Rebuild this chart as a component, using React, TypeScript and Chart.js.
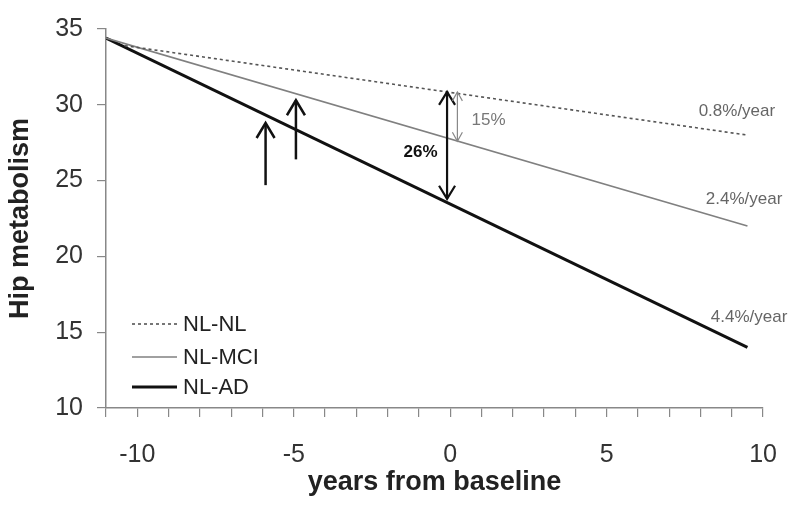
import React, { useEffect, useRef } from "react";
import { Chart, registerables } from "chart.js";

Chart.register(...registerables);

// ---- data ----
const seriesNames = ["NL-NL", "NL-MCI", "NL-AD"];
const yearsNL = [-10.4, 9.5];
const valuesNL = [33.9, 28.0];
const yearsMCI = [-11, 9.5];
const valuesMCI = [34.4, 22.0];
const yearsAD = [-11, 9.5];
const valuesAD = [34.4, 14.0];

const xTickLabels = [-10, -5, 0, 5, 10];
const yTickValues = [10, 15, 20, 25, 30, 35];

// annotation texts (anchored at data coords)
const rateTexts = ["0.8%/year", "2.4%/year", "4.4%/year"];
const rateX = [7.94, 8.17, 8.33];
const rateY = [29.55, 23.77, 15.97];

// single conversion arrows: x, from, to
const arrowX = [-5.9, -4.93];
const arrowFrom = [24.7, 26.4];
const arrowTo = [28.8, 30.3];

// difference arrows at baseline
const diffLabels = ["26%", "15%"];
const diffX = [-0.1, 0.23];
const diffTop = [30.85, 30.85];
const diffBottom = [23.8, 27.6];
const diffTextX = [-1.49, 0.68];
const diffTextY = [26.88, 28.96];

const FONT = "'Liberation Sans', Arial, sans-serif";

const toPts = (xs: number[], ys: number[]) => xs.map((x, i) => ({ x, y: ys[i] }));

const lineStyles = [
  { color: "#555555", width: 1.6, dash: [3, 3] },
  { color: "#808080", width: 1.6, dash: [] as number[] },
  { color: "#111111", width: 3, dash: [] as number[] },
];

function drawArrowHead(ctx: CanvasRenderingContext2D, x: number, y: number, dir: number, hw: number, hl: number) {
  ctx.beginPath();
  ctx.moveTo(x - hw, y + dir * hl);
  ctx.lineTo(x, y);
  ctx.lineTo(x + hw, y + dir * hl);
  ctx.stroke();
}

const annotationPlugin = {
  id: "annotations",
  afterDatasetsDraw(chart: any) {
    const ctx: CanvasRenderingContext2D = chart.ctx;
    const xs = chart.scales.x;
    const ys = chart.scales.y;
    const area = chart.chartArea;
    ctx.save();
    ctx.lineCap = "butt";
    ctx.lineJoin = "miter";

    // single arrows
    ctx.strokeStyle = "#111";
    ctx.lineWidth = 2.5;
    arrowX.forEach((ax, i) => {
      const px = xs.getPixelForValue(ax);
      const p0 = ys.getPixelForValue(arrowFrom[i]);
      const p1 = ys.getPixelForValue(arrowTo[i]);
      ctx.beginPath();
      ctx.moveTo(px, p0);
      ctx.lineTo(px, p1);
      ctx.stroke();
      drawArrowHead(ctx, px, p1, 1, 9, 15);
    });

    // difference double arrows
    diffX.forEach((dx, i) => {
      const px = xs.getPixelForValue(dx);
      const t = ys.getPixelForValue(diffTop[i]);
      const b = ys.getPixelForValue(diffBottom[i]);
      if (i === 0) {
        ctx.strokeStyle = "#111";
        ctx.lineWidth = 2.2;
      } else {
        ctx.strokeStyle = "#888";
        ctx.lineWidth = 1.2;
      }
      ctx.beginPath();
      ctx.moveTo(px, t);
      ctx.lineTo(px, b);
      ctx.stroke();
      const hw = i === 0 ? 8 : 5;
      const hl = i === 0 ? 13 : 9;
      drawArrowHead(ctx, px, t, 1, hw, hl);
      drawArrowHead(ctx, px, b, -1, hw, hl);
    });

    // diff labels
    ctx.textBaseline = "middle";
    ctx.textAlign = "left";
    diffLabels.forEach((txt, i) => {
      ctx.font = i === 0 ? `bold 17px ${FONT}` : `17px ${FONT}`;
      ctx.fillStyle = i === 0 ? "#111" : "#777";
      ctx.fillText(txt, xs.getPixelForValue(diffTextX[i]), ys.getPixelForValue(diffTextY[i]));
    });

    // rate labels
    ctx.font = `17px ${FONT}`;
    ctx.fillStyle = "#666";
    rateTexts.forEach((txt, i) => {
      ctx.fillText(txt, xs.getPixelForValue(rateX[i]), ys.getPixelForValue(rateY[i]));
    });

    // legend
    const lx0 = area.left + 26;
    const lx1 = area.left + 71;
    const tx = area.left + 77;
    const rowY = [area.top + 295, area.top + 328, area.top + 358];
    ctx.font = `22px ${FONT}`;
    chart.data.datasets.forEach((ds: any, i: number) => {
      const y = rowY[i];
      ctx.strokeStyle = ds.borderColor;
      ctx.lineWidth = ds.borderWidth;
      ctx.setLineDash(ds.borderDash || []);
      ctx.beginPath();
      ctx.moveTo(lx0, y);
      ctx.lineTo(lx1, y);
      ctx.stroke();
      ctx.setLineDash([]);
      ctx.fillStyle = "#222";
      ctx.fillText(ds.label, tx, y + 1);
    });
    ctx.restore();
  },
};

export default function App() {
  const ref = useRef<HTMLCanvasElement | null>(null);
  useEffect(() => {
    if (!ref.current) return;
    const seriesData = [toPts(yearsNL, valuesNL), toPts(yearsMCI, valuesMCI), toPts(yearsAD, valuesAD)];
    const chart = new Chart(ref.current, {
      type: "line",
      data: {
        datasets: seriesNames.map((name, i) => ({
          label: name,
          data: seriesData[i],
          borderColor: lineStyles[i].color,
          borderWidth: lineStyles[i].width,
          borderDash: lineStyles[i].dash,
          pointRadius: 0,
          fill: false,
          tension: 0,
        })),
      },
      options: {
        animation: false,
        responsive: true,
        maintainAspectRatio: false,
        layout: { padding: { left: 0, right: 35, top: 22, bottom: 0 } },
        plugins: { legend: { display: false }, tooltip: { enabled: false } },
        scales: {
          x: {
            type: "linear",
            min: -11,
            max: 10,
            afterFit: (s: any) => { s.height = 102; },
            afterBuildTicks: (s: any) => {
              const t = [];
              for (let v = -11; v <= 10; v++) t.push({ value: v });
              s.ticks = t;
            },
            ticks: {
              autoSkip: false,
              maxRotation: 0,
              padding: 23,
              color: "#333",
              font: { family: FONT, size: 25 },
              callback: (v: any) => (xTickLabels.includes(Number(v)) ? String(v) : ""),
            },
            grid: { display: true, drawOnChartArea: false, drawTicks: true, tickLength: 9, color: "#888", lineWidth: 1.2 },
            border: { display: true, color: "#888", width: 1.5 },
            title: {
              display: true,
              text: "years from baseline",
              color: "#222",
              font: { family: FONT, size: 27, weight: "bold" },
              padding: { top: 0, bottom: 11 },
            },
          },
          y: {
            type: "linear",
            min: 10,
            max: 35,
            afterFit: (s: any) => { s.width = 106; },
            afterBuildTicks: (s: any) => { s.ticks = yTickValues.map((v) => ({ value: v })); },
            ticks: {
              padding: 14,
              color: "#333",
              font: { family: FONT, size: 25 },
            },
            grid: { display: true, drawOnChartArea: false, drawTicks: true, tickLength: 9, color: "#888", lineWidth: 1.2 },
            border: { display: true, color: "#888", width: 1.5 },
            title: {
              display: true,
              text: "Hip metabolism",
              color: "#222",
              font: { family: FONT, size: 27, weight: "bold" },
              padding: { top: 4, bottom: 0 },
            },
          },
        },
      },
      plugins: [annotationPlugin],
    });
    return () => chart.destroy();
  }, []);
  return (
    <div style={{ position: "absolute", left: 0, top: 0, width: 800, height: 510, background: "#fff" }}>
      <canvas ref={ref} />
    </div>
  );
}
